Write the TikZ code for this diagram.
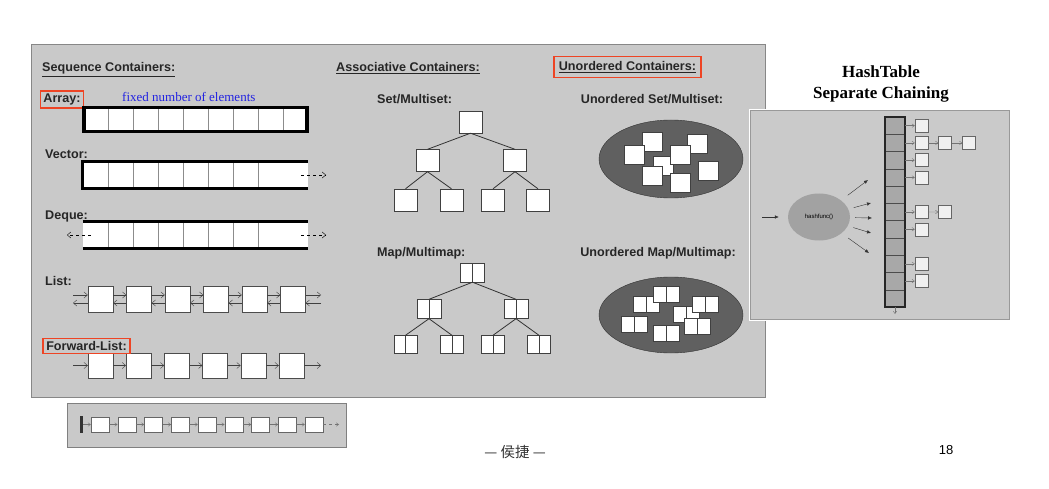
\documentclass[tikz,border=0pt]{standalone}
\usepackage{fontspec}
\setmainfont{Liberation Serif}
\setsansfont{Liberation Sans}
\newfontfamily\cjkfont{Noto Sans CJK SC}
\usepackage{tikz}
\usetikzlibrary{shapes.geometric, arrows.meta, positioning}
\definecolor{panelgray}{RGB}{201,201,201}
\definecolor{edgegray}{RGB}{135,135,135}
\definecolor{markred}{RGB}{238,68,36}
\definecolor{noteblue}{RGB}{35,35,225}
\definecolor{blobgray}{RGB}{96,96,96}
\definecolor{bucketgray}{RGB}{168,168,168}
\definecolor{funcgray}{RGB}{162,162,162}
\tikzstyle{cell} = [draw=black!45, fill=white, rectangle, inner sep=0pt,
    minimum width=25pt, minimum height=25pt]
\tikzstyle{opencell} = [cell, draw=none]
\tikzstyle{listbox} = [draw=black!70, fill=white, rectangle, inner sep=0pt,
    minimum width=25pt, minimum height=26pt]
\tikzstyle{treebox} = [draw=black!75, fill=white, inner sep=0pt,
    minimum width=23pt, minimum height=22pt]
\tikzstyle{pairbox} = [treebox, path picture={\draw[black!75]
    (path picture bounding box.north) -- (path picture bounding box.south);}]
\tikzstyle{ubox} = [draw=black!75, fill=white, inner sep=0pt,
    minimum width=20pt, minimum height=19pt]
\tikzstyle{upair} = [pairbox, minimum width=26pt, minimum height=16pt]
\tikzstyle{blob} = [draw=black!80, fill=blobgray, ellipse, inner sep=0pt]
\tikzstyle{bucket} = [draw=black!70, fill=bucketgray, inner sep=0pt,
    minimum width=20pt, minimum height=17.27pt]
\tikzstyle{chainbox} = [draw=black!60, fill=white!94!black, inner sep=0pt, minimum size=13pt]
\tikzstyle{smallbox} = [draw=black!60, fill=white, inner sep=0pt,
    minimum width=18pt, minimum height=15pt]
\tikzstyle{title} = [font=\sffamily\bfseries\fontsize{12.6}{14}\selectfont,
    text=black!85, inner sep=0pt]
\tikzstyle{tag} = [title, anchor=base west]
\tikzstyle{redframe} = [draw=markred, line width=1.6pt, inner sep=3pt, anchor=center]
\tikzstyle{thickline} = [line width=3.2pt, black]
\tikzstyle{treeline} = [black!80, line width=0.8pt]
\tikzstyle{chainarrow} = [-{Straight Barb[length=2.5pt,width=3.5pt]}, black!55]
\tikzstyle{hfarrow} = [-{Latex[length=4pt,width=3.5pt]}, black!80]

\begin{document}
\begin{tikzpicture}[x=1pt, y=-1pt, >={Straight Barb[length=3.5pt,width=6pt]}]
\useasboundingbox (0,0) rectangle (1049,489);
\fill[white] (0,0) rectangle (1049,489);

% main panel
\node[draw=edgegray, fill=panelgray, inner sep=0pt, anchor=north west,
    minimum width=734pt, minimum height=353pt] (panel) at (31,44) {};

% sequence containers
\node[tag] (seqtitle) at (42,72) {\underline{Sequence Containers:}};
\node[title, redframe] (arraytag) at (62,99.5) {Array:};
\node[anchor=base west, text=noteblue, font=\fontsize{13}{15}\selectfont, inner sep=0pt]
    (note) at (122,102) {fixed number of elements};
\foreach \i in {0,...,8}
    \node[cell] (a\i) at (95.5+25*\i,119.5) {};
\node[draw, line width=3.2pt, inner sep=0pt, minimum width=223pt,
    minimum height=24pt] (arraybox) at (195.5,119.5) {};

\node[tag] (vectag) at (45,158.5) {Vector:};
\foreach \i in {0,...,7}
    \node[cell, minimum height=26pt] (v\i) at (95.5+25*\i,175) {};
\node[opencell, minimum height=26pt] (v8) at (295.5,175) {};
\draw[thickline] (v8.north east) -- (v0.north west) -- (v0.south west) -- (v8.south east);
\coordinate (vend) at (326,175);
\draw[->, dashed] ([xshift=-7pt]v8.east) -- (vend);

\node[tag] (dequetag) at (45,219) {Deque:};
\node[opencell, minimum height=26pt] (d0) at (95.5,235) {};
\foreach \i in {1,...,7}
    \node[cell, minimum height=26pt] (d\i) at (95.5+25*\i,235) {};
\node[opencell, minimum height=26pt] (d8) at (295.5,235) {};
\draw[thickline] (d0.north west) -- (d8.north east);
\draw[thickline] (d0.south west) -- (d8.south east);
\coordinate (dleft) at (67,235);
\coordinate (dright) at (326,235);
\draw[->, dashed] ([xshift=8pt]d0.west) -- (dleft);
\draw[->, dashed] ([xshift=-7pt]d8.east) -- (dright);

\node[tag] (listtag) at (45,285.5) {List:};
\foreach \i in {0,...,5}
    \node[listbox] (l\i) at (100.5+38.5*\i,299) {};
\foreach \i in {0,...,4} {
    \pgfmathtruncatemacro\j{\i+1}
    \draw[->, black!75] ([yshift=4pt]l\i.east) -- ([yshift=4pt]l\j.west);
    \draw[->, black!75] ([yshift=-4pt]l\j.west) -- ([yshift=-4pt]l\i.east);
}
\coordinate (lin) at (73,299);
\coordinate (lout) at (321,299);
\draw[->, black!75] ([yshift=4pt]lin) -- ([yshift=4pt]l0.west);
\draw[->, black!75] ([yshift=-4pt]l0.west) -- ([yshift=-4pt]lin);
\draw[->, black!75] ([yshift=4pt]l5.east) -- ([yshift=4pt]lout);
\draw[->, black!75] ([yshift=-4pt]lout) -- ([yshift=-4pt]l5.east);

\foreach \i in {0,...,5}
    \node[listbox, minimum height=25pt] (f\i) at (100.5+38.2*\i,365.5) {};
\foreach \i in {0,...,4} {
    \pgfmathtruncatemacro\j{\i+1}
    \draw[->, black!75] (f\i) -- (f\j);
}
\coordinate (fin) at (73,365.5);
\coordinate (fout) at (321,365.5);
\draw[->, black!75] (fin) -- (f0);
\draw[->, black!75] (f5) -- (fout);
\node[title, redframe] (fwdtag) at (86.5,346) {Forward-List:};

% associative containers
\node[tag] (assoctitle) at (336,72) {\underline{Associative Containers:}};
\node[tag] (settag) at (377,104) {Set/Multiset:};
\node[treebox] (s) at (470.5,122) {};
\node[treebox] (sl) at (427.5,160.5) {};
\node[treebox] (sr) at (515,160.5) {};
\node[treebox] (sll) at (405.5,200) {};
\node[treebox] (slr) at (451.5,200) {};
\node[treebox] (srl) at (493,200) {};
\node[treebox] (srr) at (538,200) {};
\draw[treeline] (s.south) -- (sl.north) (s.south) -- (sr.north)
    (sl.south) -- (sll.north) (sl.south) -- (slr.north)
    (sr.south) -- (srl.north) (sr.south) -- (srr.north);

\node[tag] (maptag) at (377,256) {Map/Multimap:};
\node[pairbox, minimum width=24pt, minimum height=19pt] (m) at (472.5,272.5) {};
\node[pairbox, minimum width=24pt, minimum height=19pt] (ml) at (429,309) {};
\node[pairbox, minimum width=24pt, minimum height=19pt] (mr) at (516,309) {};
\node[pairbox, minimum height=18pt] (mll) at (405.5,344.5) {};
\node[pairbox, minimum height=18pt] (mlr) at (452,344.5) {};
\node[pairbox, minimum height=18pt] (mrl) at (493,344.5) {};
\node[pairbox, minimum height=18pt] (mrr) at (539,344.5) {};
\draw[treeline] (m.south) -- (ml.north) (m.south) -- (mr.north)
    (ml.south) -- (mll.north) (ml.south) -- (mlr.north)
    (mr.south) -- (mrl.north) (mr.south) -- (mrr.north);

% unordered containers
\node[title, redframe, inner xsep=5pt, inner ysep=5pt] (unordtitle) at (627.5,67)
    {\underline{Unordered Containers:}};
\node[title, anchor=base] (usettag) at (652,104) {Unordered Set/Multiset:};
\node[blob, minimum width=144pt, minimum height=78pt] (uset) at (671,159) {};
\foreach \x/\y [count=\k] in {652/141.5, 634.5/154.5, 697/144, 663/166,
    680/154.5, 652/175.5, 680/182.5, 708/171}
    \node[ubox] (us\k) at (\x,\y) {};

\node[title, anchor=base] (umaptag) at (658,256) {Unordered Map/Multimap:};
\node[blob, minimum width=144pt, minimum height=76pt] (umap) at (671,315) {};
\foreach \x/\y [count=\k] in {646/304, 666.5/294, 686/314, 705.5/304,
    634/324, 697.5/326, 666.5/333.5}
    \node[upair] (um\k) at (\x,\y) {};

% hash table
\node[font=\bfseries\fontsize{17}{21}\selectfont, align=center, inner sep=0pt]
    (httitle) at (881,84) {HashTable\\Separate Chaining};
\node[draw=white, line width=2.4pt, fill=panelgray!98!white, inner sep=0pt,
    minimum width=260pt, minimum height=210pt] (hpanel) at (880,215) {};
\draw[black!40, line width=0.6pt] ([shift={(1.6,1.6)}]hpanel.north west)
    rectangle ([shift={(-1.6,-1.6)}]hpanel.south east);

\foreach \i in {0,...,10}
    \node[bucket] (b\i) at (895,125.64+17.27*\i) {};
\draw[line width=2.4pt, black!85] (b0.north west) rectangle (b10.south east);
\coordinate (bend) at (895,314);
\draw[chainarrow] (b10.south) -- (bend);
\foreach \i in {0,1,2,3,5,6,8,9} {
    \node[chainbox] (c\i) at (921.5,125.64+17.27*\i) {};
    \draw[chainarrow] (b\i.east) -- (c\i.west);
}
\node[chainbox] (c1b) at (945,142.91) {};
\node[chainbox] (c1c) at (969,142.91) {};
\node[chainbox] (c5b) at (945,211.99) {};
\draw[chainarrow] (c1) -- (c1b);
\draw[chainarrow] (c1b) -- (c1c);
\draw[chainarrow] (c5) -- (c5b);

\node[ellipse, fill=funcgray, inner sep=0pt, minimum width=62pt, minimum height=47pt,
    font=\sffamily\fontsize{6}{7}\selectfont] (hf) at (819,217) {hashfunc()};
\coordinate (hin) at (762,217);
\draw[hfarrow, shorten >=9pt] (hin) -- (hf.west);
\coordinate (h1) at (868,180);
\coordinate (h2) at (871,203);
\coordinate (h3) at (872,218);
\coordinate (h4) at (871,233);
\coordinate (h5) at (869,253);
\foreach \t in {h1,h2,h3,h4,h5}
    \draw[hfarrow, shorten <=36pt] (hf.center) -- (\t);

% forward list strip
\node[draw=black!50, fill=panelgray, inner sep=0pt, anchor=north west,
    minimum width=279pt, minimum height=44pt] (fpanel) at (67,403) {};
\node[fill=black!80, inner sep=0pt, minimum width=3pt, minimum height=17pt]
    (head) at (81.5,424.5) {};
\foreach \i in {0,...,8}
    \node[smallbox] (n\i) at (100+26.75*\i,424.5) {};
\draw[chainarrow] (head) -- (n0);
\foreach \i in {0,...,7} {
    \pgfmathtruncatemacro\j{\i+1}
    \draw[chainarrow] (n\i) -- (n\j);
}
\coordinate (nend) at (339,424.5);
\draw[chainarrow, dashed] (n8) -- (nend);

% footer
\node[font=\cjkfont\fontsize{14.5}{16}\selectfont, text=black!80] (author) at (515,452) {— 侯捷 —};
\node[font=\sffamily\fontsize{13}{15}\selectfont] (pageno) at (946,450) {18};
\end{tikzpicture}
\end{document}
